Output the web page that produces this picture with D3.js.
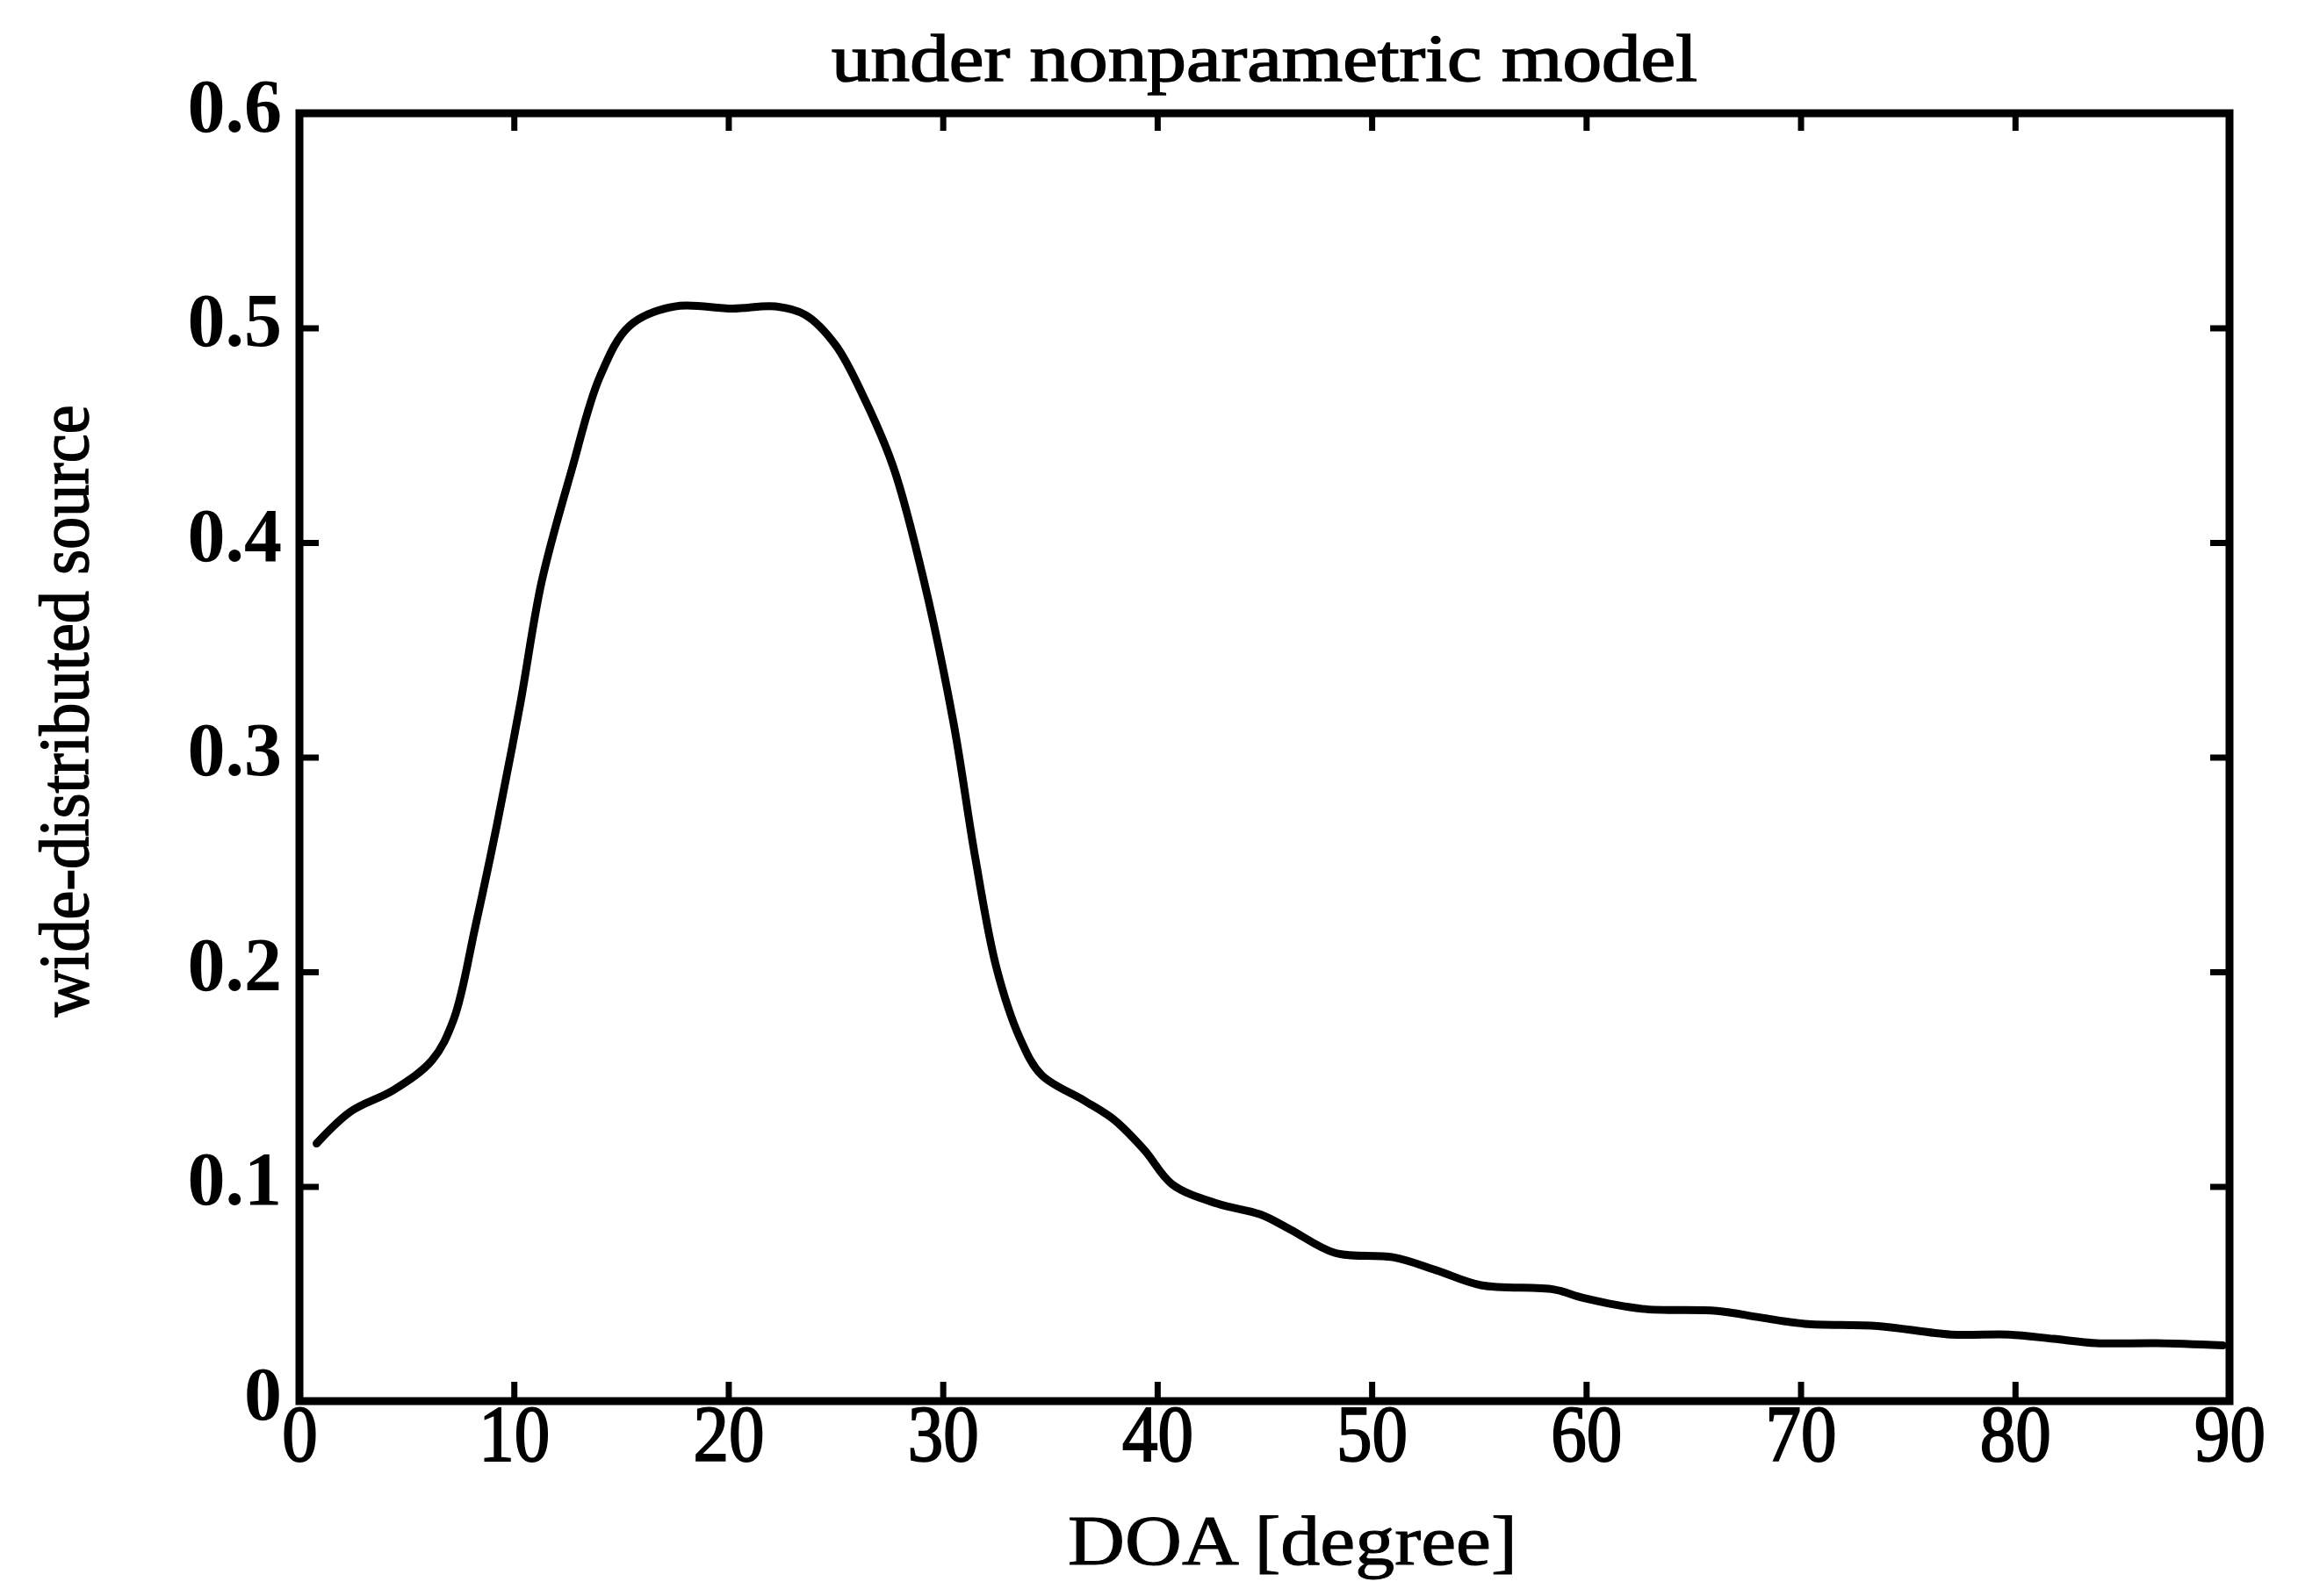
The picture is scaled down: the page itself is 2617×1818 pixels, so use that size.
<!DOCTYPE html>
<html>
<head>
<meta charset="utf-8">
<script src="https://cdn.jsdelivr.net/npm/d3@7"></script>
<style>
	body { margin: 0; background: #fff; }
	svg { display: block; }
</style>
</head>
<body>
<svg id="chart" width="2617" height="1818"></svg>
<script>
const doa = [0.8, 2.4, 4.4, 6.2, 7.2, 8.2, 9.2, 10.3, 11.3, 12.7, 14.0, 15.4, 17.5, 20.2, 22.2, 23.6,
	25.0, 26.3, 27.7, 29.1, 30.5, 31.5, 32.5, 33.6, 34.6, 36.6, 38.0, 39.4, 40.7, 42.8, 44.8, 46.2,
	48.3, 51.0, 53.0, 55.1, 58.5, 59.9, 62.6, 66.1, 68.1, 70.2, 73.6, 77.0, 79.7, 81.8, 83.8, 86.6, 89.7];
const spectrum = [0.120, 0.135, 0.145, 0.159, 0.178, 0.221, 0.268, 0.325, 0.382, 0.434, 0.477, 0.501, 0.510, 0.509, 0.510, 0.506,
	0.492, 0.468, 0.435, 0.383, 0.316, 0.254, 0.202, 0.169, 0.152, 0.140, 0.131, 0.117, 0.101, 0.092, 0.087, 0.080,
	0.069, 0.067, 0.061, 0.054, 0.052, 0.048, 0.043, 0.042, 0.039, 0.036, 0.035, 0.031, 0.031, 0.029, 0.027, 0.027, 0.026];
const xTicks = [0, 10, 20, 30, 40, 50, 60, 70, 80, 90];
const yTicks = [0, 0.1, 0.2, 0.3, 0.4, 0.5, 0.6];
const yTickLabels = ["0", "0.1", "0.2", "0.3", "0.4", "0.5", "0.6"];

const title = "under nonparametric model";
const xTitle = "DOA [degree]";
const yTitle = "wide-distributed source";

const plotLeft = 341, plotRight = 2539, plotTop = 129, plotBottom = 1596;
const serif = "'Liberation Serif', 'DejaVu Serif', serif";

const svg = d3.select("#chart");

const xScale = d3.scaleLinear().domain([0, 90]).range([plotLeft, plotRight]);
const yScale = d3.scaleLinear().domain([0, 0.6]).range([plotBottom, plotTop]);

//ticks, all pointing inward
svg.append("g").attr("class", "xAxis")
	.attr("transform", "translate(" + [0, plotBottom] + ")")
	.call(d3.axisBottom(xScale).tickValues(xTicks).tickSize(-22).tickSizeOuter(0).tickFormat(d3.format("d")));
svg.append("g").attr("class", "xAxisTop")
	.attr("transform", "translate(" + [0, plotTop] + ")")
	.call(d3.axisTop(xScale).tickValues(xTicks).tickSize(-20).tickSizeOuter(0).tickFormat(""));
svg.append("g").attr("class", "yAxis")
	.attr("transform", "translate(" + [plotLeft, 0] + ")")
	.call(d3.axisLeft(yScale).tickValues(yTicks).tickSize(-22).tickSizeOuter(0).tickFormat(function(d, i){ return yTickLabels[i]; }));
svg.append("g").attr("class", "yAxisRight")
	.attr("transform", "translate(" + [plotRight, 0] + ")")
	.call(d3.axisRight(yScale).tickValues(yTicks).tickSize(-22).tickSizeOuter(0).tickFormat(""));

svg.selectAll(".domain").remove();
svg.selectAll(".tick line").attr("stroke", "#000").attr("stroke-width", 7);

//x tick labels: tall, slightly narrow digits
svg.select(".xAxis").selectAll("text")
	.attr("y", 0).attr("dy", null)
	.attr("transform", "translate(0,68) scale(0.9,1)")
	.attr("font-family", serif).attr("font-size", 90).attr("fill", "#000")
	.attr("stroke", "#000").attr("stroke-width", 2);

svg.select(".yAxis").selectAll("text")
	.attr("x", -20).attr("dy", null)
	.attr("y", 20)
	.attr("text-anchor", "end")
	.attr("font-family", serif).attr("font-weight", "bold").attr("font-size", 86).attr("fill", "#000");

//frame
svg.append("rect")
	.attr("x", plotLeft).attr("y", plotTop)
	.attr("width", plotRight - plotLeft).attr("height", plotBottom - plotTop)
	.attr("fill", "none").attr("stroke", "#000").attr("stroke-width", 9);

//the curve
const line = d3.line()
	.x(function(d, i){ return xScale(doa[i]); })
	.y(function(d){ return yScale(d); })
	.curve(d3.curveCatmullRom.alpha(0.5));

svg.append("path")
	.datum(spectrum)
	.attr("d", line)
	.attr("fill", "none")
	.attr("stroke", "#000")
	.attr("stroke-width", 9)
	.attr("stroke-linecap", "round")
	.attr("stroke-linejoin", "round");

//labels
svg.append("text")
	.attr("x", (plotLeft + plotRight) / 2).attr("y", 92)
	.attr("text-anchor", "middle")
	.attr("font-family", serif).attr("font-size", 76)
	.attr("textLength", 986).attr("lengthAdjust", "spacingAndGlyphs")
	.attr("stroke", "#000").attr("stroke-width", 1.5)
	.text(title);

svg.append("text")
	.attr("x", 1472).attr("y", 1782)
	.attr("text-anchor", "middle")
	.attr("font-family", serif).attr("font-size", 80)
	.attr("textLength", 512).attr("lengthAdjust", "spacingAndGlyphs")
	.attr("stroke", "#000").attr("stroke-width", 1)
	.text(xTitle);

svg.append("text")
	.attr("transform", "translate(100,810) rotate(-90)")
	.attr("text-anchor", "middle")
	.attr("font-family", serif).attr("font-size", 80)
	.attr("textLength", 697).attr("lengthAdjust", "spacingAndGlyphs")
	.attr("stroke", "#000").attr("stroke-width", 1.5)
	.text(yTitle);
</script>
</body>
</html>
